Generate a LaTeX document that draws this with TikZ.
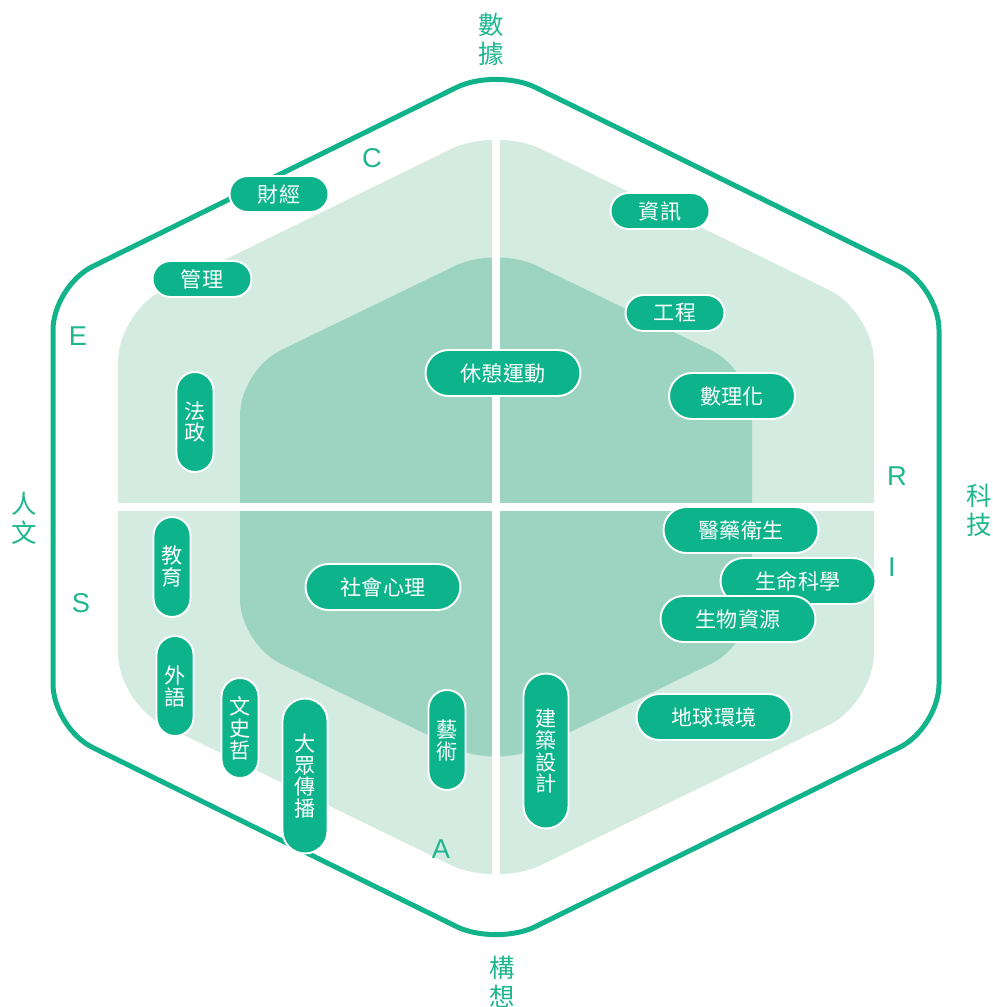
\documentclass[tikz,border=0pt]{standalone}
\usepackage{fontspec}
\setmainfont{Liberation Sans}
\newfontfamily\cjk{Noto Sans CJK TC}
\definecolor{cEdge}{HTML}{12B38A}
\definecolor{cPill}{HTML}{0DB38B}
\definecolor{cLight}{HTML}{D4EBE1}
\definecolor{cDark}{HTML}{9CD4C1}
\definecolor{cText}{HTML}{1DB68F}
\tikzset{
  pill/.style={draw=white, line width=1.1pt, fill=cPill, text=white, inner sep=0pt,
    align=center, font=\cjk\fontsize{12}{12.5}\selectfont},
  pillS/.style={pill, minimum width=1.98cm, minimum height=0.72cm, rounded corners=0.36cm},
  pillL/.style={pill, minimum width=3.1cm, minimum height=0.92cm, rounded corners=0.46cm},
  vpillS/.style={pill, minimum width=0.74cm, minimum height=2cm, rounded corners=0.37cm},
  vpillL/.style={pill, minimum width=0.9cm, minimum height=3.1cm, rounded corners=0.45cm},
  zone/.style={font=\fontsize{15.5}{16}\selectfont, text=cText},
  axislab/.style={font=\cjk\fontsize{14.5}{16.4}\selectfont, text=cText, align=center},
}

\begin{document}
\begin{tikzpicture}[x=0.02cm, y=-0.02cm]
    \useasboundingbox (0,0) rectangle (992,1007);
    % zones
    \fill[cLight, rounded corners=1cm] (118,507) -- (118,312) -- (496,127) -- (874,312)
      -- (874,703) -- (496,887) -- (118,703) -- cycle;
    \fill[cDark, rounded corners=0.9cm] (240,507) -- (240,370) -- (496,246) -- (752,370)
      -- (752,644) -- (496,768) -- (240,644) -- cycle;
    % quadrant gaps
    \draw[white, line width=0.16cm] (496,110) -- (496,900);
    \draw[white, line width=0.16cm] (105,507) -- (888,507);
    % outer frame
    \draw[cEdge, line width=0.1cm, rounded corners=0.88cm] (53,507) -- (53,286) -- (496,68)
      -- (939,286) -- (939,728) -- (496,946) -- (53,728) -- cycle;
    % fields
    \node[pillS] (finance) at (279,194) {財經};
    \node[pillS] (mgmt) at (202,279) {管理};
    \node[pillS] (info) at (660,211) {資訊};
    \node[pillS] (eng) at (675,313) {工程};
    \node[pillL] (leisure) at (503,373) {休憩運動};
    \node[pillL, minimum width=2.52cm] (science) at (732,396) {數理化};
    \node[pillL] (medicine) at (741,530) {醫藥衛生};
    \node[pillL] (lifesci) at (798,581) {生命科學};
    \node[pillL] (biores) at (738,619) {生物資源};
    \node[pillL] (socpsy) at (383,587) {社會心理};
    \node[pillL] (earth) at (714,717) {地球環境};
    \node[vpillS] (law) at (195,422) {法\\政};
    \node[vpillS] (edu) at (172,567) {教\\育};
    \node[vpillS] (lang) at (175,686) {外\\語};
    \node[vpillS] (humanities) at (240,728) {文\\史\\哲};
    \node[vpillL] (media) at (305,776) {大\\眾\\傳\\播};
    \node[vpillS] (arts) at (447,740) {藝\\術};
    \node[vpillL] (arch) at (546,751) {建\\築\\設\\計};
    % RIASEC letters
    \node[zone] (labC) at (372,158) {C};
    \node[zone] (labE) at (78,336) {E};
    \node[zone] (labR) at (897,476) {R};
    \node[zone] (labI) at (892,567) {I};
    \node[zone] (labS) at (81,603) {S};
    \node[zone] (labA) at (441,849) {A};
    % axes
    \node[axislab] (data) at (491,39) {數\\據};
    \node[axislab] (tech) at (979,510) {科\\技};
    \node[axislab] (human) at (24,518) {人\\文};
    \node[axislab] (idea) at (502,982) {構\\想};
\end{tikzpicture}
\end{document}
